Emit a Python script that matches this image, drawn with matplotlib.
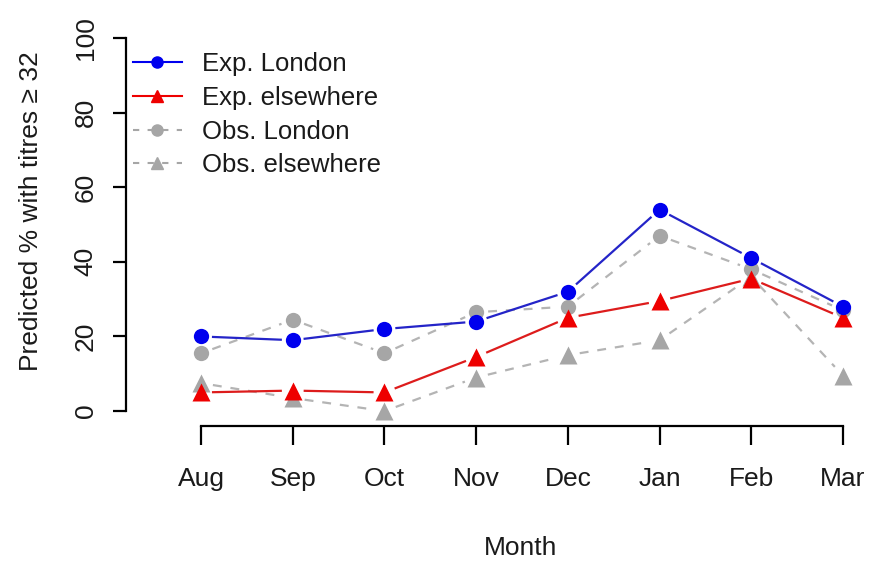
import matplotlib
matplotlib.use("Agg")
import matplotlib.pyplot as plt
from matplotlib.lines import Line2D
import numpy as np

plt.rcParams['font.family'] = ['Liberation Sans', 'DejaVu Sans']

months = ["Aug", "Sep", "Oct", "Nov", "Dec", "Jan", "Feb", "Mar"]
exp_london = [20, 19, 22, 24, 32, 54, 41, 28]
exp_elsewhere = [5, 5.5, 5, 14.5, 25, 29.5, 35.5, 25]
obs_london = [15.5, 24.5, 15.5, 26.5, 28, 47, 38, 27]
obs_elsewhere = [7.5, 3.5, 0, 9, 15, 19, 36, 9.5]

blue = "#0000ee"
red = "#ee0000"
grey = "#a6a6a6"

fig = plt.figure(figsize=(8.74, 5.63), dpi=100)
ax = fig.add_axes([0.1442, 0.2433, 0.8558, 0.7158])
ax.set_xlim(0.182, 8.338)
ax.set_ylim(-4, 104)

x = np.arange(1, len(months) + 1)


def gapped(ax, xs, ys, gap=12, **kw):
    # R style type="b": line segments stop short of the points
    pts = ax.transData.transform(np.column_stack([xs, ys]))
    inv = ax.transData.inverted()
    for p0, p1 in zip(pts[:-1], pts[1:]):
        d = p1 - p0
        L = np.hypot(*d)
        if L <= 2 * gap:
            continue
        u = d / L
        seg = inv.transform(np.array([p0 + u * gap, p1 - u * gap]))
        ax.plot(seg[:, 0], seg[:, 1], **kw)


dash = dict(linestyle=(0, (4, 4)), linewidth=1.6, color="#b4b4b4")
gapped(ax, x, obs_london, **dash)
ax.plot(x, obs_london, "o", color=grey, ms=11, mec="none")
gapped(ax, x, obs_elsewhere, **dash)
ax.plot(x, obs_elsewhere, "^", color=grey, ms=13, mec="none")

gapped(ax, x, exp_elsewhere, linewidth=1.6, color="#dd1c1c")
ax.plot(x, exp_elsewhere, "^", color=red, ms=13, mec="none")
gapped(ax, x, exp_london, linewidth=1.6, color="#2424c8")
ax.plot(x, exp_london, "o", color=blue, ms=11, mec="none")

# axes drawn like R's bty="n"
for s in ["top", "right"]:
    ax.spines[s].set_visible(False)
ax.spines["left"].set_bounds(0, 100)
ax.spines["bottom"].set_bounds(1, 8)
ax.spines["left"].set_linewidth(1.6)
ax.spines["bottom"].set_linewidth(1.6)

ax.set_xticks(x)
ax.set_xticklabels(months)
ax.set_yticks([0, 20, 40, 60, 80, 100])
ax.tick_params(axis="x", length=13.5, width=1.6, pad=16, labelsize=19, labelcolor="#1a1a1a")
ax.tick_params(axis="y", length=9.5, width=1.6, pad=11, labelsize=19, labelcolor="#1a1a1a",
               labelrotation=90)
for t in ax.get_yticklabels():
    t.set_va("center")

ax.set_xlabel("Month", fontsize=19, color="#1a1a1a", va="center")
ax.xaxis.set_label_coords(0.527, -0.303)
ax.set_ylabel("Predicted % with titres \u2265 32", fontsize=19, color="#1a1a1a", va="center")
ax.yaxis.set_label_coords(-0.127, 0.533)

handles = [
    Line2D([], [], color=blue, lw=1.5, marker="o", ms=8),
    Line2D([], [], color=red, lw=1.5, marker="^", ms=9),
    Line2D([], [], color=grey, lw=1.5, linestyle=(0, (3, 4)), marker="o", ms=8),
    Line2D([], [], color=grey, lw=1.5, linestyle=(0, (3, 4)), marker="^", ms=9),
]
labels = ["Exp. London", "Exp. elsewhere", "Obs. London", "Obs. elsewhere"]
leg = ax.legend(handles, labels, loc="upper left", bbox_to_anchor=(0.009, 0.928),
                frameon=False, fontsize=18.5, borderpad=0, borderaxespad=0,
                handlelength=1.9, handletextpad=0.78, labelspacing=0.38)
for t in leg.get_texts():
    t.set_color("#1a1a1a")

fig.savefig("out.png", dpi=100)
